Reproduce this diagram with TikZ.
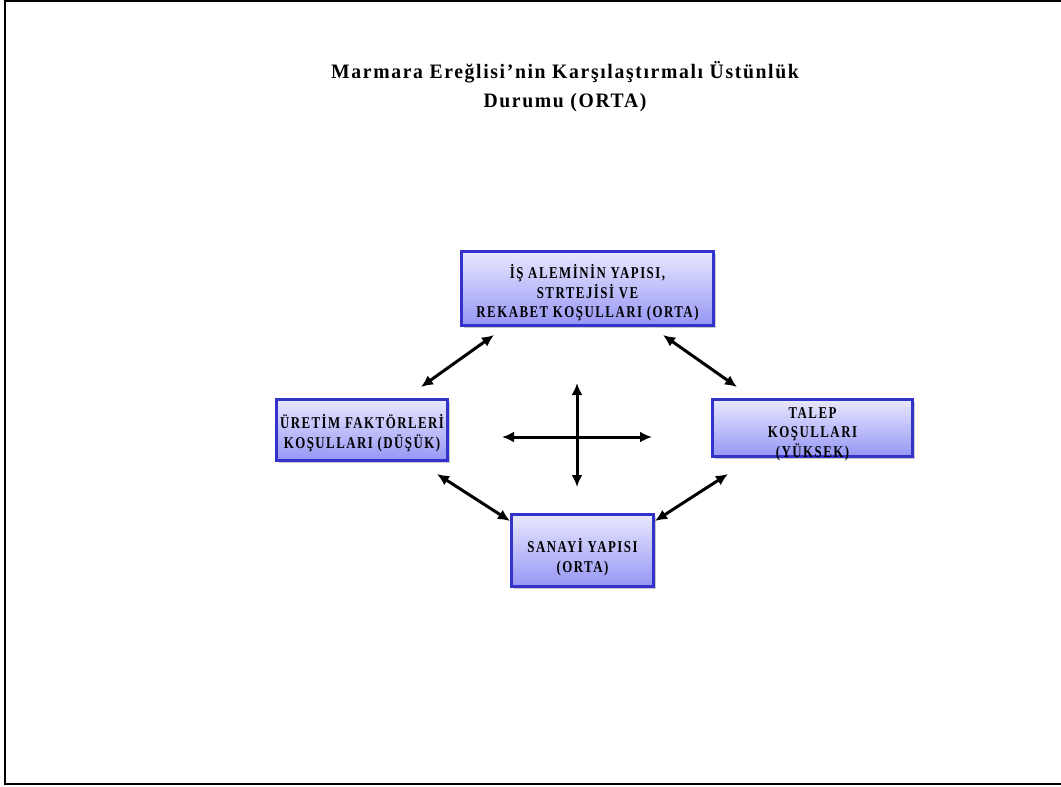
\documentclass[tikz,border=0pt]{standalone}
\usepackage{fontspec}
\setmainfont{Liberation Serif}
\newfontfamily\spacedfont[LetterSpace=9,FakeStretch=0.78]{Liberation Serif}
\newfontfamily\titlefont[LetterSpace=8,FakeStretch=0.96]{Liberation Serif}
\usetikzlibrary{arrows.meta,shadows}
\definecolor{boxedge}{RGB}{51,51,204}
\definecolor{boxtop}{RGB}{232,232,255}
\definecolor{boxbot}{RGB}{150,150,245}
\tikzset{
  factor/.style={draw=boxedge, line width=3pt, top color=boxtop, bottom color=boxbot,
    drop shadow={shadow xshift=2.5pt, shadow yshift=-2.5pt, fill=black!35, opacity=0.6},
    inner sep=0pt},
  factortext/.style={align=center, inner sep=0pt, font=\spacedfont\bfseries\fontsize{16.5}{19.5}\selectfont},
  link/.style={{Latex[length=12pt,width=11pt]}-{Latex[length=12pt,width=11pt]}, line width=3pt},
  titletext/.style={align=center, font=\titlefont\bfseries\fontsize{20.5}{29}\selectfont}
}
\begin{document}
\begin{tikzpicture}[x=1pt,y=-1pt]
\useasboundingbox (0,0) rectangle (1061,787);
\draw[line width=2pt] (1070,1) -- (5,1) -- (5,784) -- (1070,784);
\node[titletext] (title) at (565,87) {Marmara Ereğlisi’nin Karşılaştırmalı Üstünlük\\Durumu (ORTA)};
\node[factor, minimum width=252pt, minimum height=74pt] (is) at (587.5,288.5) {};
\node[factortext] (istext) at (587.5,293) {İŞ ALEMİNİN YAPISI,\\STRTEJİSİ VE\\REKABET KOŞULLARI (ORTA)};
\node[factor, minimum width=171pt, minimum height=61pt] (uretim) at (362,430) {};
\node[factortext] (uretimtext) at (362,433) {ÜRETİM FAKTÖRLERİ\\KOŞULLARI (DÜŞÜK)};
\node[factor, minimum width=200pt, minimum height=57pt] (talep) at (812.5,428) {};
\node[factortext] (taleptext) at (812.5,434) {TALEP\\KOŞULLARI\\(YÜKSEK)};
\node[factor, minimum width=142pt, minimum height=72pt] (sanayi) at (582.5,550.5) {};
\node[factortext] (sanayitext) at (582.5,557) {SANAYİ YAPISI\\(ORTA)};
\coordinate (a1) at (494,335); \coordinate (a2) at (421,387);
\coordinate (b1) at (663,335); \coordinate (b2) at (737,387);
\coordinate (c1) at (437,474); \coordinate (c2) at (510,521);
\coordinate (d1) at (728,474); \coordinate (d2) at (655,521);
\coordinate (v1) at (577,383); \coordinate (v2) at (577,487);
\coordinate (h1) at (502,437); \coordinate (h2) at (652,437);
\draw[link] (a1) -- (a2);
\draw[link] (b1) -- (b2);
\draw[link] (c1) -- (c2);
\draw[link] (d1) -- (d2);
\draw[link] (v1) -- (v2);
\draw[link] (h1) -- (h2);
\end{tikzpicture}
\end{document}
